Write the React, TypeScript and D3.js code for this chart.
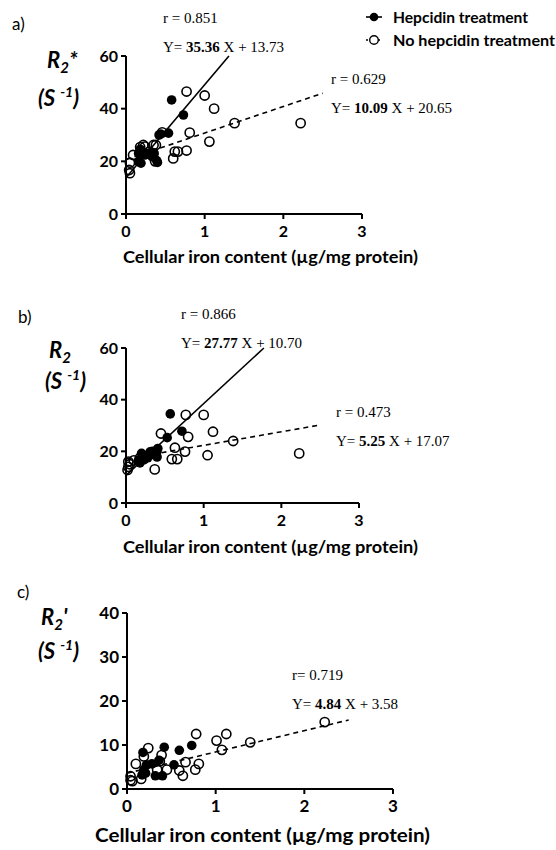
import React from 'react';
import * as d3 from 'd3';

type Pt = [number, number];

const xTicks = [0, 1, 2, 3];
const yTicksAB = [0, 20, 40, 60];
const yTicksC = [0, 10, 20, 30, 40];

// Panel a: R2*
const hepA: Pt[] = [
  [0.16, 19.9], [0.19, 19.3], [0.16, 23.0], [0.18, 24.6], [0.20, 23.7], [0.24, 22.4],
  [0.28, 23.0], [0.33, 21.8], [0.35, 23.0], [0.39, 20.3], [0.40, 19.6], [0.42, 30.0],
  [0.44, 30.4], [0.54, 30.7], [0.58, 43.3], [0.73, 37.6],
];
const noHepA: Pt[] = [
  [0.04, 16.7], [0.05, 15.5], [0.05, 19.5], [0.09, 22.4], [0.18, 25.4], [0.22, 26.2],
  [0.24, 25.6], [0.30, 23.7], [0.35, 26.2], [0.38, 26.2], [0.35, 23.0], [0.37, 20.0],
  [0.46, 31.0], [0.60, 21.1], [0.62, 23.7], [0.66, 23.7], [0.77, 46.5], [0.77, 24.1],
  [0.81, 30.9], [1.00, 45.0], [1.06, 27.5], [1.12, 40.0], [1.38, 34.5], [2.22, 34.5],
];
// Panel b: R2
const hepB: Pt[] = [
  [0.16, 16.5], [0.18, 15.5], [0.20, 19.2], [0.22, 18.0], [0.24, 17.2], [0.28, 17.5],
  [0.31, 19.8], [0.34, 20.0], [0.36, 19.5], [0.38, 18.9], [0.40, 17.8], [0.41, 21.1],
  [0.53, 25.3], [0.57, 34.5], [0.72, 27.8],
];
const noHepB: Pt[] = [
  [0.02, 12.8], [0.03, 14.0], [0.03, 16.0], [0.05, 15.0], [0.10, 16.5], [0.18, 17.5],
  [0.23, 17.0], [0.33, 19.0], [0.37, 13.0], [0.39, 20.0], [0.45, 26.9], [0.59, 17.0],
  [0.63, 21.4], [0.66, 17.0], [0.76, 19.9], [0.77, 34.1], [0.80, 25.6], [1.00, 34.1],
  [1.05, 18.5], [1.12, 27.6], [1.38, 24.0], [2.23, 19.2],
];
// Panel c: R2'
const hepC: Pt[] = [
  [0.17, 3.2], [0.18, 8.3], [0.19, 4.4], [0.21, 3.6], [0.22, 5.5], [0.28, 5.7],
  [0.32, 3.0], [0.36, 6.5], [0.40, 3.0], [0.42, 9.5], [0.53, 5.5], [0.59, 8.8], [0.73, 9.9],
];
const noHepC: Pt[] = [
  [0.04, 2.9], [0.04, 2.0], [0.06, 1.8], [0.10, 5.7], [0.16, 2.3], [0.19, 7.4],
  [0.24, 9.3], [0.34, 4.4], [0.37, 6.3], [0.39, 7.7], [0.45, 4.4], [0.59, 4.2],
  [0.63, 3.0], [0.66, 6.1], [0.77, 4.4], [0.78, 12.5], [0.81, 5.7], [1.01, 11.0],
  [1.07, 8.9], [1.12, 12.5], [1.39, 10.6], [2.23, 15.2],
];

// regression fits: [slope, intercept, r]
const fitHepA = [35.36, 13.73, 0.851];
const fitNoHepA = [10.09, 20.65, 0.629];
const fitHepB = [27.77, 10.70, 0.866];
const fitNoHepB = [5.25, 17.07, 0.473];
const fitNoHepC = [4.84, 3.58, 0.719];

const legendLabels = ['Hepcidin treatment', 'No hepcidin treatment'];
const xTitle = 'Cellular iron content (\u00b5g/mg protein)';

const SANS = 'Lato, "Open Sans", sans-serif';
const SERIF = '"Liberation Serif", "DejaVu Serif", serif';

type Fit = { vals: number[]; dashed: boolean; rPos: [number, number]; rText: string };

type PanelProps = {
  letter: string;
  letterPos: [number, number];
  yLabelMain: string;
  yLabelSuffix: string;
  yLabelPos: [number, number];
  unitPos: [number, number];
  xRange: [number, number];
  yRange: [number, number];
  yMax: number;
  yTicks: number[];
  hep: Pt[];
  noHep: Pt[];
  fits: Fit[];
  tickFont: number;
  titleFont: number;
  titleBaseline: number;
  titleX: [number, number];
};

function Panel(p: PanelProps) {
  const x = d3.scaleLinear().domain([0, 3]).range(p.xRange);
  const y = d3.scaleLinear().domain([0, p.yMax]).range(p.yRange);
  const line = d3.line<Pt>().x((d) => x(d[0])).y((d) => y(d[1]));
  const x0 = p.xRange[0];
  const y0 = p.yRange[0];
  return (
    <g>
      <text x={p.letterPos[0]} y={p.letterPos[1]} fontFamily={SANS} fontSize={17} fill="#000">{p.letter}</text>
      <text x={p.yLabelPos[0]} y={p.yLabelPos[1]} fontFamily={SANS} fontSize={22} fontWeight="bold" fontStyle="italic">
        R<tspan fontSize={15} dy={5}>2</tspan><tspan dy={-5}>{p.yLabelSuffix}</tspan>
      </text>
      <text x={p.unitPos[0]} y={p.unitPos[1]} fontFamily={SANS} fontSize={22} fontWeight="bold" fontStyle="italic">
        (S<tspan fontSize={14} dy={-9} dx={5}>-1</tspan><tspan dy={9}>)</tspan>
      </text>
      {/* fit lines */}
      {p.fits.map((f, i) => {
        const [m, b] = f.vals;
        const xEnd = Math.min(2.5, (p.yMax - b) / m);
        const pts: Pt[] = [[0, b], [xEnd, m * xEnd + b]];
        return (
          <path key={i} d={line(pts) || ''} fill="none" stroke="#000" strokeWidth={1.6}
            strokeDasharray={f.dashed ? '5,4' : undefined} />
        );
      })}
      {/* points */}
      {p.noHep.map((d, i) => (
        <circle key={'o' + i} cx={x(d[0])} cy={y(d[1])} r={4.6} fill="none" stroke="#000" strokeWidth={1.6} />
      ))}
      {p.hep.map((d, i) => (
        <circle key={'f' + i} cx={x(d[0])} cy={y(d[1])} r={4.8} fill="#000" />
      ))}
      {/* axes */}
      <line x1={x0} x2={x0} y1={y(p.yMax)} y2={y0} stroke="#000" strokeWidth={2} />
      <line x1={x0} x2={x(3)} y1={y0} y2={y0} stroke="#000" strokeWidth={2} />
      {p.yTicks.map((t) => (
        <g key={'yt' + t}>
          <line x1={x0 - 5} x2={x0} y1={y(t)} y2={y(t)} stroke="#000" strokeWidth={2} />
          <text x={x0 - 8} y={y(t)} dy="0.36em" textAnchor="end" fontFamily={SANS} fontWeight="bold" fontSize={p.tickFont}>{t}</text>
        </g>
      ))}
      {xTicks.map((t) => (
        <g key={'xt' + t}>
          <line x1={x(t)} x2={x(t)} y1={y0} y2={y0 + 5} stroke="#000" strokeWidth={2} />
          <text x={x(t)} y={y0 + 23} textAnchor="middle" fontFamily={SANS} fontWeight="bold" fontSize={p.tickFont}>{t}</text>
        </g>
      ))}
      <text x={p.titleX[0]} y={p.titleBaseline} fontFamily={SANS} fontWeight="bold" fontSize={p.titleFont}
        textLength={p.titleX[1] - p.titleX[0]} lengthAdjust="spacingAndGlyphs">{xTitle}</text>
      {/* annotations */}
      {p.fits.map((f, i) => (
        <g key={'ann' + i} fontFamily={SERIF} fontSize={15}>
          <text x={f.rPos[0]} y={f.rPos[1]}>{f.rText} {f.vals[2].toFixed(3)}</text>
          <text x={f.rPos[0]} y={f.rPos[1] + 29}>
            Y= <tspan fontWeight="bold">{f.vals[0].toFixed(2)}</tspan> X + {f.vals[1].toFixed(2)}
          </text>
        </g>
      ))}
    </g>
  );
}

export default function App() {
  return (
    <svg width={556} height={850} style={{ position: 'absolute', left: 0, top: 0, background: '#fff' }}>
      <rect width={556} height={850} fill="#fff" />
      {/* legend */}
      <g>
        <line x1={366} x2={382} y1={17} y2={17} stroke="#000" strokeWidth={1.6} />
        <circle cx={374} cy={17} r={4.3} fill="#000" />
        <text x={393} y={23} fontFamily={SANS} fontWeight="bold" fontSize={16} textLength={135} lengthAdjust="spacingAndGlyphs">{legendLabels[0]}</text>
        <line x1={366} x2={382} y1={40} y2={40} stroke="#000" strokeWidth={1.4} strokeDasharray="2,2" />
        <circle cx={374} cy={40} r={4.3} fill="#fff" stroke="#000" strokeWidth={1.4} />
        <text x={393} y={46} fontFamily={SANS} fontWeight="bold" fontSize={16} textLength={162} lengthAdjust="spacingAndGlyphs">{legendLabels[1]}</text>
      </g>
      <Panel letter="a)" letterPos={[12, 30]} yLabelMain="R" yLabelSuffix="*" yLabelPos={[47, 68]} unitPos={[38, 106]}
        xRange={[126, 362]} yRange={[214, 56]} yMax={60} yTicks={yTicksAB} hep={hepA} noHep={noHepA}
        fits={[
          { vals: fitHepA, dashed: false, rPos: [163, 23], rText: 'r =' },
          { vals: fitNoHepA, dashed: true, rPos: [331, 84], rText: 'r =' },
        ]}
        tickFont={16} titleFont={17} titleBaseline={263} titleX={[123, 418]} />
      <Panel letter="b)" letterPos={[18, 323]} yLabelMain="R" yLabelSuffix="" yLabelPos={[49, 358]} unitPos={[45, 389]}
        xRange={[126, 359]} yRange={[503, 348]} yMax={60} yTicks={yTicksAB} hep={hepB} noHep={noHepB}
        fits={[
          { vals: fitHepB, dashed: false, rPos: [181, 319], rText: 'r =' },
          { vals: fitNoHepB, dashed: true, rPos: [336, 417], rText: 'r =' },
        ]}
        tickFont={16} titleFont={17} titleBaseline={553} titleX={[123, 418]} />
      <Panel letter="c)" letterPos={[17, 598]} yLabelMain="R" yLabelSuffix="'" yLabelPos={[41, 625]} unitPos={[38, 659]}
        xRange={[127, 393]} yRange={[789, 613]} yMax={40} yTicks={yTicksC} hep={hepC} noHep={noHepC}
        fits={[
          { vals: fitNoHepC, dashed: true, rPos: [292, 680], rText: 'r=' },
        ]}
        tickFont={17} titleFont={19} titleBaseline={842} titleX={[95, 430]} />
    </svg>
  );
}
